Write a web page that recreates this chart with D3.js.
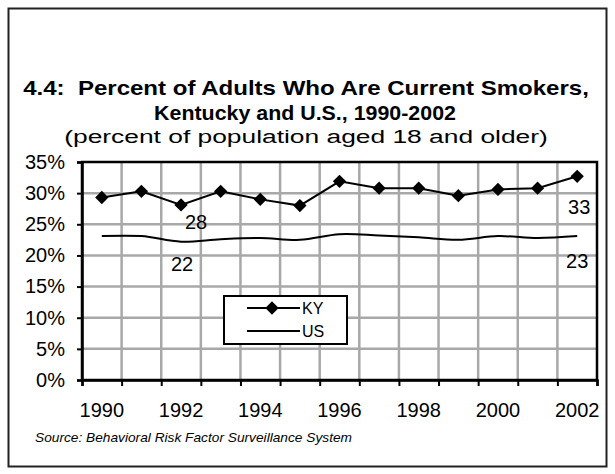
<!DOCTYPE html>
<html>
<head>
<meta charset="utf-8">
<script src="https://cdn.jsdelivr.net/npm/d3@7"></script>
<style>
  html, body { margin: 0; padding: 0; background: #fff; }
  svg { display: block; font-family: "Liberation Sans", Arial, sans-serif; }
</style>
</head>
<body>
<svg id="chart" width="615" height="474"></svg>
<script>
// ---- data ----
const years = [1990, 1991, 1992, 1993, 1994, 1995, 1996, 1997, 1998, 1999, 2000, 2001, 2002];
const kyValues = [29.3, 30.3, 28.1, 30.3, 29.0, 28.0, 31.9, 30.8, 30.8, 29.6, 30.6, 30.8, 32.7];
const usValues = [23.1, 23.1, 22.2, 22.6, 22.8, 22.5, 23.4, 23.2, 22.9, 22.5, 23.1, 22.8, 23.1];
const yTicks = [0, 5, 10, 15, 20, 25, 30, 35];
const gridValues = [5, 10, 15, 20, 25, 30];
const xTickLabels = [1990, 1992, 1994, 1996, 1998, 2000, 2002];
const dataLabels = [
  { series: "KY", year: 1992, text: "28" },
  { series: "US", year: 1992, text: "22" },
  { series: "KY", year: 2002, text: "33" },
  { series: "US", year: 2002, text: "23" }
];
const titleLines = ["4.4:\u00a0 Percent of Adults Who Are Current Smokers,", "Kentucky and U.S., 1990-2002"];
const subtitle = "(percent of population aged 18 and older)";
const source = "Source: Behavioral Risk Factor Surveillance System";

// ---- layout ----
const svg = d3.select("#chart");
const P = { left: 82, right: 597, top: 162, bottom: 380 };

// outer frame
svg.append("rect")
  .attr("x", 8.5).attr("y", 8.5).attr("width", 598).attr("height", 458)
  .attr("fill", "none").attr("stroke", "#222").attr("stroke-width", 2);

// scales
const xs = d3.scaleBand().domain(years).range([P.left, P.right]).padding(0);
const ys = d3.scaleLinear().domain([0, 35]).range([P.bottom, P.top]);
const mid = d => xs(d) + xs.bandwidth() / 2;
const boundary = d3.scaleLinear().domain([0, years.length]).range([P.left, P.right]);

// gridlines
const grid = svg.append("g").attr("class", "gridlines");
grid.selectAll("line.h").data(gridValues).join("line").attr("class", "h")
  .attr("x1", P.left).attr("x2", P.right)
  .attr("y1", d => ys(d)).attr("y2", d => ys(d))
  .attr("stroke", "#a8a8a8").attr("stroke-width", 2.5);
grid.selectAll("line.v").data(d3.range(1, years.length)).join("line").attr("class", "v")
  .attr("x1", d => boundary(d)).attr("x2", d => boundary(d))
  .attr("y1", P.top).attr("y2", P.bottom)
  .attr("stroke", "#a8a8a8").attr("stroke-width", 2.5);

// plot area border
svg.append("rect").attr("x", P.left).attr("y", P.top)
  .attr("width", P.right - P.left).attr("height", P.bottom - P.top)
  .attr("fill", "none").attr("stroke", "#000").attr("stroke-width", 2.5);

// titles (stretched horizontally to match)
function stretchedText(str, centerX, baseline, size, weight, style, width) {
  const t = svg.append("text")
    .attr("font-size", size).attr("font-weight", weight).attr("font-style", style)
    .attr("text-anchor", "middle").attr("fill", "#000").text(str);
  const natural = t.node().getComputedTextLength();
  const s = natural > 0 ? width / natural : 1;
  t.attr("transform", `translate(${centerX},${baseline}) scale(${s},1)`);
  return t;
}
stretchedText(titleLines[0], 306, 95, 21, "bold", "normal", 566);
stretchedText(titleLines[1], 305, 120, 21, "bold", "normal", 302);
stretchedText(subtitle, 306, 143, 19, "normal", "normal", 484);
stretchedText(source, 193.5, 442, 13, "normal", "italic", 317);

// y axis
const yg = svg.append("g").attr("transform", `translate(${P.left},0)`)
  .call(d3.axisLeft(ys).tickValues(yTicks).tickSize(5).tickPadding(12).tickFormat(d => d + "%"));
yg.select(".domain").attr("stroke", "#000").attr("stroke-width", 2.5);
yg.selectAll(".tick line").attr("stroke", "#000").attr("stroke-width", 2);
yg.selectAll(".tick text").attr("font-size", 20).attr("fill", "#000")
  .attr("font-family", "Liberation Sans, Arial, sans-serif");

// x axis: ticks at category boundaries
const xg = svg.append("g").attr("transform", `translate(0,${P.bottom})`)
  .call(d3.axisBottom(boundary).tickValues(d3.range(0, years.length + 1)).tickSize(6).tickFormat(""));
xg.select(".domain").attr("stroke", "#000").attr("stroke-width", 2.5);
xg.selectAll(".tick line").attr("stroke", "#000").attr("stroke-width", 2);

const xlg = svg.append("g").attr("transform", `translate(0,${P.bottom})`)
  .call(d3.axisBottom(xs).tickValues(xTickLabels).tickSize(0).tickPadding(23));
xlg.select(".domain").remove();
xlg.selectAll(".tick text").attr("font-size", 20).attr("fill", "#000")
  .attr("font-family", "Liberation Sans, Arial, sans-serif");

// US line (smoothed)
const usLine = d3.line().x((d, i) => mid(years[i])).y(d => ys(d)).curve(d3.curveCatmullRom.alpha(0));
svg.append("path").datum(usValues).attr("d", usLine)
  .attr("fill", "none").attr("stroke", "#000").attr("stroke-width", 2);

// KY line
const kyLine = d3.line().x((d, i) => mid(years[i])).y(d => ys(d));
svg.append("path").datum(kyValues).attr("d", kyLine)
  .attr("fill", "none").attr("stroke", "#000").attr("stroke-width", 2);
const diamond = d3.symbol().type(d3.symbolSquare).size(88);
svg.append("g").selectAll(null).data(kyValues).join("path")
  .attr("d", diamond)
  .attr("transform", (d, i) => `translate(${mid(years[i])},${ys(d)}) rotate(45)`)
  .attr("fill", "#000");

// data labels
const seriesMap = { KY: kyValues, US: usValues };
const labelOffsets = { "KY1992": [15, 24], "US1992": [1, 29], "KY2002": [2, 38], "US2002": [0, 32] };
svg.append("g").selectAll(null).data(dataLabels).join("text")
  .attr("x", d => mid(d.year) + labelOffsets[d.series + d.year][0])
  .attr("y", d => ys(seriesMap[d.series][years.indexOf(d.year)]) + labelOffsets[d.series + d.year][1])
  .attr("text-anchor", "middle").attr("font-size", 20).attr("fill", "#000")
  .text(d => d.text);

// legend
const lg = svg.append("g");
lg.append("rect").attr("x", 224).attr("y", 296).attr("width", 123).attr("height", 48)
  .attr("fill", "#fff").attr("stroke", "#000").attr("stroke-width", 2);
const legendItems = [{ name: "KY", marker: true }, { name: "US", marker: false }];
legendItems.forEach((it, i) => {
  const yy = 308 + i * 23;
  lg.append("line").attr("x1", 247).attr("x2", 300).attr("y1", yy).attr("y2", yy)
    .attr("stroke", "#000").attr("stroke-width", 2);
  if (it.marker) {
    lg.append("path").attr("d", diamond).attr("transform", `translate(272,${yy}) rotate(45)`).attr("fill", "#000");
  }
  lg.append("text").attr("x", 302).attr("y", yy + 6).attr("font-size", 16).attr("fill", "#000").text(it.name);
});
</script>
</body>
</html>
